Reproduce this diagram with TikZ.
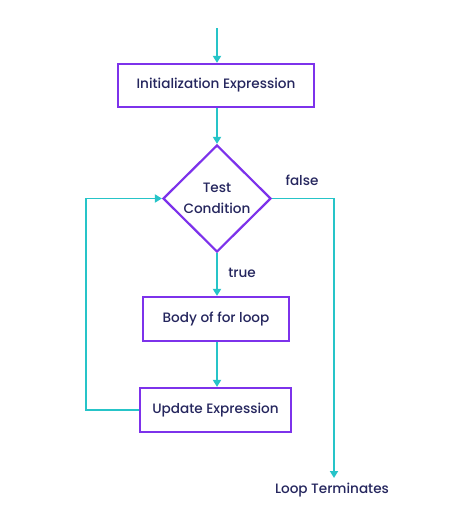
\documentclass[tikz,border=0pt]{standalone}
\usepackage{fontspec}
\IfFontExistsTF{Poppins Medium}{\setmainfont{Poppins Medium}}{\setmainfont{Poppins}}
\usetikzlibrary{shapes.geometric,arrows.meta}
\definecolor{flowline}{RGB}{38,196,200}
\definecolor{boxline}{RGB}{125,50,235}
\definecolor{labeltext}{RGB}{37,38,94}
\tikzset{
    stepbox/.style={draw=boxline, line width=2.2pt, fill=white, text=labeltext, font=\fontsize{13.6}{20}\selectfont, inner sep=0pt},
    testbox/.style={diamond, draw=boxline, line width=2.2pt, fill=white, text=labeltext, font=\fontsize{13.6}{20}\selectfont, align=center, inner sep=0pt, minimum width=108pt, minimum height=107pt},
    flow/.style={draw=flowline, line width=1.8pt, -{Triangle[length=7pt,width=8pt]}},
    note/.style={text=labeltext, font=\fontsize{13.6}{20}\selectfont}
}
\begin{document}
\begin{tikzpicture}[x=1pt, y=-1pt]
    % Canvas: same size as the reference (474 x 530)
    \useasboundingbox (0,0) rectangle (474,530);

    % Boxes of the loop
    \node[stepbox, minimum width=196pt, minimum height=43pt] (init) at (216,85.5) {Initialization Expression};
    \node[testbox] (test) at (217,198.5) {Test\\[1pt]Condition};
    \node[stepbox, minimum width=146pt, minimum height=44pt] (body) at (216,319) {Body of for loop};
    \node[stepbox, minimum width=151pt, minimum height=44pt] (update) at (215.5,410) {Update Expression};
    \node[note] (done) at (332,490) {Loop Terminates};

    % Free ends and corners
    \coordinate (start) at (217,28);
    \coordinate (backcorner) at (86,410);
    \coordinate (backtop) at (86,198.5);
    \coordinate (falsecorner) at (334,198.5);
    \coordinate (falseend) at (334,478);

    % Connectors
    \draw[flow] (start) -- (init.north -| start);
    \draw[flow] (init.south -| test) -- (test.north);
    \draw[flow] (test.south) -- (body.north -| test);
    \draw[flow] (body.south -| test) -- (update.north -| test);
    \draw[flow] (update.west) -- (backcorner) -- (backtop) -- (test.west);
    \draw[flow] (test.east) -- (falsecorner) -- (falseend);

    % Branch labels
    \node[note] (falselabel) at (302,180) {false};
    \node[note] (truelabel) at (242,273) {true};
\end{tikzpicture}
\end{document}
